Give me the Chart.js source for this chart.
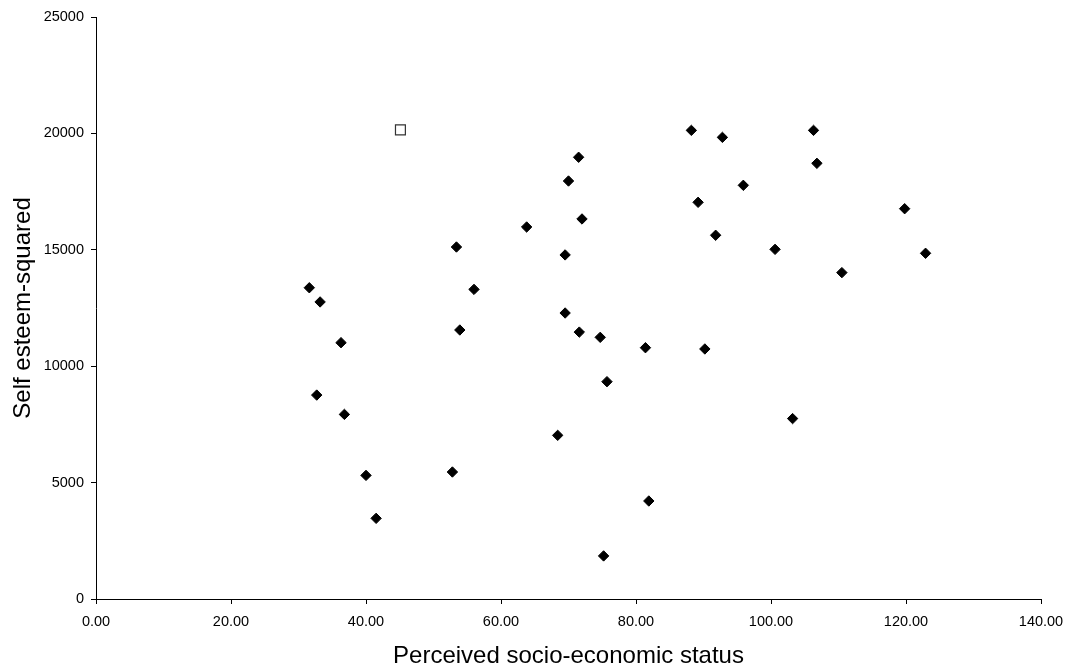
<!DOCTYPE html>
<html>
<head>
<meta charset="utf-8">
<script src="https://cdn.jsdelivr.net/npm/chart.js@4.4.0/dist/chart.umd.min.js"></script>
<style>
  html, body { margin: 0; padding: 0; background: #ffffff; }
  #wrap { width: 1069px; height: 668px; position: relative; }
</style>
</head>
<body>
<div id="wrap"><canvas id="c" width="1069" height="668"></canvas></div>
<script>
// Perceived socio-economic status (x) for the main group of cases
const sesValues = [31.6, 33.2, 32.7, 36.3, 36.8, 40.0, 41.5, 52.8, 53.4, 53.9, 56.0, 63.8,
  68.4, 69.5, 69.5, 70.0, 71.5, 72.0, 71.6, 74.7, 75.7, 75.2, 81.4, 81.9, 88.2, 89.2,
  90.2, 91.8, 92.8, 95.9, 100.6, 103.2, 106.3, 106.8, 110.5, 119.8, 122.9];
// Self esteem-squared (y) for the same cases
const esteemValues = [13370, 12760, 8760, 11010, 7930, 5310, 3465, 5455, 15120, 11555, 13300, 15980,
  7030, 14780, 12285, 17955, 18975, 16325, 11465, 11240, 9335, 1850, 10795, 4210, 20130, 17040,
  10740, 15625, 19830, 17770, 15020, 7750, 20130, 18715, 14020, 16765, 14850];
// The single hollow-square case
const outlierSes = [45.1];
const outlierEsteem = [20150];

const xTickLabels = ["0.00", "20.00", "40.00", "60.00", "80.00", "100.00", "120.00", "140.00"];
const yTickLabels = ["0", "5000", "10000", "15000", "20000", "25000"];

const mainPoints = sesValues.map((x, i) => ({ x: x, y: esteemValues[i] }));
const outlierPoints = outlierSes.map((x, i) => ({ x: x, y: outlierEsteem[i] }));

const FONT = "'Liberation Sans', Arial, 'DejaVu Sans', sans-serif";

new Chart(document.getElementById('c'), {
  type: 'scatter',
  data: {
    datasets: [
      {
        label: 'cases',
        data: mainPoints,
        pointStyle: 'rectRot',
        pointRadius: 5.2,
        pointHoverRadius: 5.2,
        backgroundColor: '#000000',
        borderColor: '#000000',
        borderWidth: 1
      },
      {
        label: 'outlier',
        data: outlierPoints,
        pointStyle: 'rect',
        pointRadius: 7,
        pointHoverRadius: 7,
        backgroundColor: '#ffffff',
        borderColor: '#333333',
        borderWidth: 1.2
      }
    ]
  },
  options: {
    responsive: false,
    animation: false,
    events: [],
    layout: { padding: { top: 17, right: 28, left: 0, bottom: 0 } },
    plugins: {
      legend: { display: false },
      tooltip: { enabled: false }
    },
    scales: {
      x: {
        type: 'linear',
        min: 0,
        max: 140,
        afterFit: (s) => { s.height = 69; s.paddingLeft = 0; s.paddingRight = 0; },
        afterBuildTicks: (s) => {
          s.ticks = xTickLabels.map(t => ({ value: parseFloat(t) }));
        },
        ticks: {
          stepSize: 20,
          autoSkip: false,
          maxRotation: 0,
          padding: 9,
          color: '#000000',
          font: { family: FONT, size: 14.5 },
          callback: (v, i) => xTickLabels[i]
        },
        grid: {
          display: true,
          drawOnChartArea: false,
          drawTicks: true,
          tickLength: 5,
          color: '#000000',
          lineWidth: 1
        },
        border: { display: true, color: '#000000', width: 1 },
        title: {
          display: true,
          text: 'Perceived socio-economic status',
          color: '#000000',
          font: { family: FONT, size: 24, lineHeight: 1 },
          padding: { top: 0, bottom: 0 }
        }
      },
      y: {
        type: 'linear',
        min: 0,
        max: 25000,
        afterFit: (s) => { s.width = 96; s.paddingTop = 0; s.paddingBottom = 0; },
        afterBuildTicks: (s) => {
          s.ticks = yTickLabels.map(t => ({ value: parseFloat(t) }));
        },
        ticks: {
          stepSize: 5000,
          autoSkip: false,
          padding: 7,
          color: '#000000',
          font: { family: FONT, size: 14.5 },
          callback: (v, i) => yTickLabels[i]
        },
        grid: {
          display: true,
          drawOnChartArea: false,
          drawTicks: true,
          tickLength: 5,
          color: '#000000',
          lineWidth: 1
        },
        border: { display: true, color: '#000000', width: 1 },
        title: {
          display: true,
          text: 'Self esteem-squared',
          color: '#000000',
          font: { family: FONT, size: 24, lineHeight: 1 },
          padding: { top: 11, bottom: 0 }
        }
      }
    }
  }
});
</script>
</body>
</html>
